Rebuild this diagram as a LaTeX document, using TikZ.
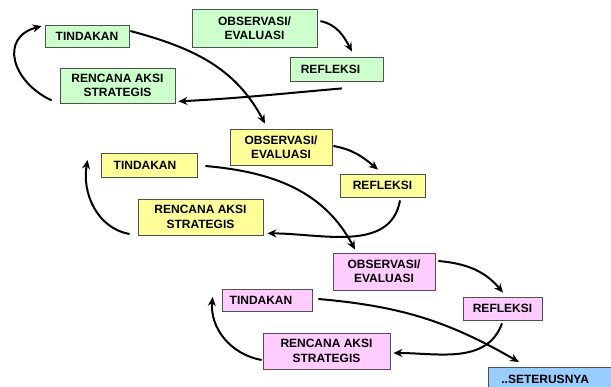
\documentclass[tikz,border=0pt]{standalone}
\usepackage{fontspec}
\setmainfont{Liberation Sans}
\usetikzlibrary{arrows.meta}
\definecolor{gfill}{HTML}{CCFFCC}
\definecolor{yfill}{HTML}{FFFF99}
\definecolor{pfill}{HTML}{FFCCFF}
\definecolor{bfill}{HTML}{99CCFF}
\definecolor{edgec}{HTML}{505050}
\begin{document}
\begin{tikzpicture}[x=1pt,y=-1pt,
  box/.style={draw=edgec,line width=0.8pt,inner sep=0pt,align=center,
    font=\fontsize{12}{14.3}\selectfont\bfseries},
  gbox/.style={box,fill=gfill},
  ybox/.style={box,fill=yfill},
  pbox/.style={box,fill=pfill},
  bbox/.style={box,fill=bfill},
  arr/.style={-{Stealth[length=9pt,width=8pt]},line width=2pt,black}]
\useasboundingbox (0,0) rectangle (611,387);
% cycle 1
\node[gbox,minimum width=84pt,minimum height=22pt] (t1) at (87,36.5) {TINDAKAN};
\node[gbox,minimum width=125pt,minimum height=38pt] (o1) at (254.5,28.5) {OBSERVASI/\\EVALUASI};
\node[gbox,minimum width=93pt,minimum height=24pt] (r1) at (336.5,69) {REFLEKSI\hspace*{12pt}};
\node[gbox,minimum width=115pt,minimum height=35pt] (n1) at (117.5,85.5) {RENCANA AKSI\\STRATEGIS};
% cycle 2
\node[ybox,minimum width=102pt,minimum height=36pt] (o2) at (281,147) {OBSERVASI/\\EVALUASI};
\node[ybox,minimum width=96pt,minimum height=24pt] (t2) at (149,165) {TINDAKAN\hspace*{8pt}};
\node[ybox,minimum width=85pt,minimum height=23pt] (r2) at (382.5,185.5) {REFLEKSI};
\node[ybox,minimum width=125pt,minimum height=36pt] (n2) at (200.5,217) {RENCANA AKSI\\STRATEGIS};
% cycle 3
\node[pbox,minimum width=102pt,minimum height=37pt] (o3) at (384,271.5) {OBSERVASI/\\EVALUASI};
\node[pbox,minimum width=90pt,minimum height=22pt] (t3) at (267,300) {TINDAKAN\hspace*{12pt}};
\node[pbox,minimum width=79pt,minimum height=23pt] (r3) at (502.5,308.5) {REFLEKSI};
\node[pbox,minimum width=127pt,minimum height=36pt] (n3) at (326.5,351) {RENCANA AKSI\\STRATEGIS};
% end
\node[bbox,minimum width=130pt,minimum height=24pt,anchor=north west,text width=120pt,align=left] (s) at (488,367) {\hspace*{8pt}..SETERUSNYA};
% arrows cycle 1
\draw[arr] ([shift={(3,12)}]o1.north east) to[out=-12,in=118] ([shift={(15.5,-5)}]r1.north);
\draw[arr] ([shift={(5.5,7)}]r1.south) to[out=-175,in=3] ([shift={(3,-2)}]n1.south east);
\draw[arr] ([shift={(-8,-3)}]n1.south west) to[out=155,in=-165,looseness=1.5] ([shift={(-3,1)}]t1.north west);
\draw[arr] ([shift={(1,-5.5)}]t1.east) to[out=-15,in=118] ([shift={(-16,-5)}]o2.north);
% arrows cycle 2
\draw[arr] ([shift={(1,-1)}]o2.east) to[out=-10,in=140] ([shift={(-4.5,-4)}]r2.north);
\draw[arr] ([shift={(17.5,3)}]r2.south) to[out=-100,in=0] ([shift={(4,-2)}]n2.south east);
\draw[arr] ([shift={(-8,17)}]n2.west) to[out=-190,in=-100] ([shift={(-13,-5)}]t2.west);
\draw[arr] ([shift={(8,1)}]t2.east) to[out=-5,in=118] ([shift={(-29,-3)}]o3.north);
% arrows cycle 3
\draw[arr] ([shift={(3,-10.5)}]o3.east) to[out=-5,in=130] ([shift={(0.5,-4)}]r3.north);
\draw[arr] ([shift={(-0.5,3)}]r3.south) to[out=-110,in=0] ([shift={(3,2)}]n3.east);
\draw[arr] ([shift={(-1,9)}]n3.west) to[out=-190,in=-95] ([shift={(-9,-3)}]t3.west);
\draw[arr] ([shift={(6,-1)}]t3.east) to[out=-5,in=150] ([shift={(-34.5,-5)}]s.north);
\end{tikzpicture}
\end{document}
